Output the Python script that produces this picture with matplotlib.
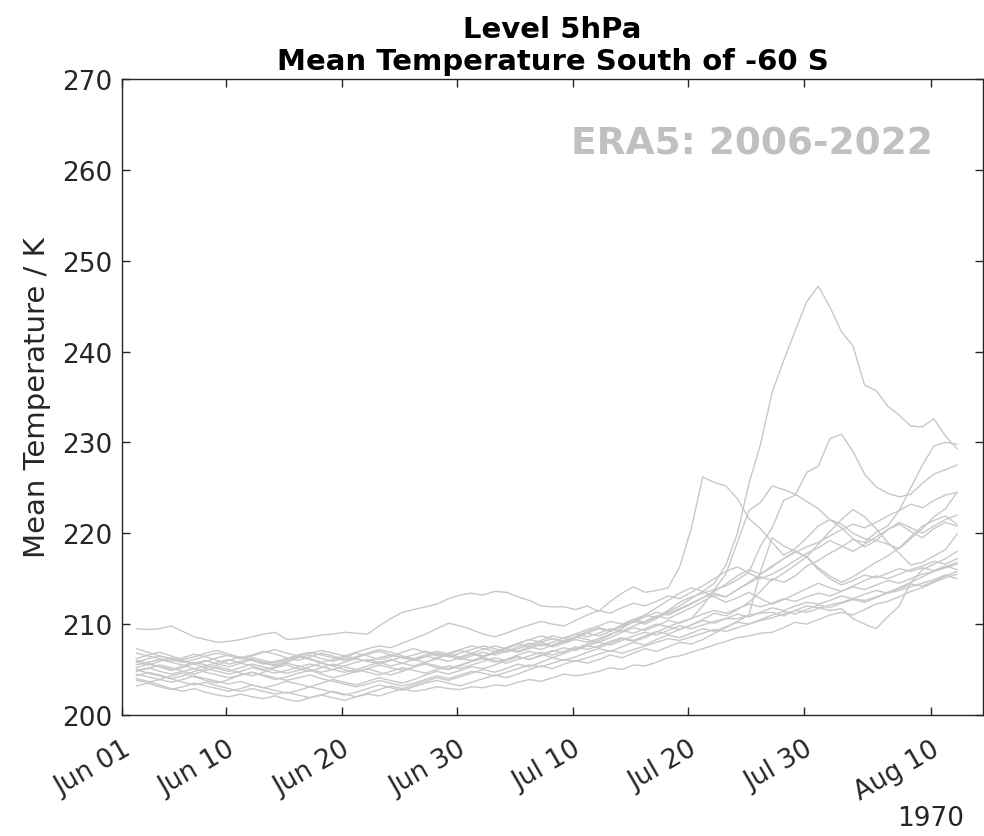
import numpy as np
import matplotlib
matplotlib.use("Agg")
import matplotlib.pyplot as plt
import matplotlib.dates as mdates
from datetime import datetime, timedelta

# daily mean temperature (K) at 5 hPa, south of 60S, one list per year, Jun 02 .. Aug 12
t2006 = [205.8, 205.5, 205.9, 206.3, 206.0, 205.6, 205.2, 205.5, 206.0, 206.4,
         206.1, 205.7, 205.4, 205.8, 206.3, 206.6, 206.2, 205.9, 206.3, 206.8,
         206.5, 206.1, 206.4, 206.9, 207.3, 206.9, 206.5, 206.8, 207.2, 207.6,
         207.3, 207.0, 207.4, 207.9, 208.3, 208.0, 207.6, 208.1, 208.6, 209.0,
         208.7, 209.2, 209.8, 210.3, 210.0, 210.6, 211.4, 212.0, 212.8, 213.6,
         214.5, 216.5, 220.0, 225.5, 229.8, 235.5, 239.0, 242.3, 245.5, 247.2,
         244.9, 242.2, 240.6, 236.3, 235.7, 234.0, 233.0, 231.8, 231.7, 232.6, 230.7, 229.3]
t2007 = [209.5, 209.4, 209.5, 209.8, 209.2, 208.6, 208.3, 208.0, 208.1, 208.3,
         208.6, 208.9, 209.1, 208.3, 208.4, 208.6, 208.8, 208.9, 209.1, 209.0,
         208.9, 209.8, 210.6, 211.3, 211.6, 211.9, 212.2, 212.8, 213.2, 213.4,
         213.2, 213.6, 213.5, 213.0, 212.6, 212.0, 211.9, 211.9, 211.6, 212.0,
         211.4, 212.5, 213.4, 214.1, 213.5, 213.7, 214.0, 216.3, 220.5, 226.2,
         225.6, 225.2, 223.8, 221.6, 220.5, 219.0, 217.6, 218.3, 219.5, 220.8,
         221.5, 220.6, 219.4, 218.5, 219.2, 220.4, 221.0, 220.2, 219.5, 220.5, 221.2, 220.8]
t2008 = [204.8, 205.1, 205.5, 205.2, 204.8, 204.5, 204.9, 205.3, 205.0, 204.6,
         204.3, 204.7, 205.2, 205.5, 205.1, 204.8, 205.2, 205.6, 205.3, 205.0,
         205.4, 205.8, 206.1, 205.7, 205.4, 205.8, 206.3, 206.6, 206.2, 206.0,
         206.4, 206.9, 207.3, 207.0, 207.5, 208.0, 208.4, 208.1, 208.6, 209.2,
         209.6, 209.3, 209.9, 210.5, 210.2, 210.8, 211.5, 212.4, 213.0, 213.4,
         213.8, 214.2, 214.9, 215.7, 218.6, 220.6, 223.6, 224.2, 226.7, 227.4,
         230.4, 230.9, 229.0, 226.5, 225.1, 224.4, 224.0, 224.3, 225.5, 226.5, 227.0, 227.5]
t2009 = [203.8, 203.6, 203.9, 204.3, 204.6, 204.2, 203.8, 203.5, 203.9, 204.4,
         204.7, 204.3, 203.9, 204.2, 204.6, 204.9, 204.5, 204.1, 204.4, 204.8,
         205.1, 204.7, 204.4, 204.8, 205.3, 205.6, 205.2, 205.0, 205.4, 205.9,
         206.2, 205.8, 206.1, 206.6, 207.0, 206.7, 206.3, 206.8, 207.3, 207.6,
         207.4, 207.9, 208.4, 208.1, 208.5, 209.1, 209.7, 209.4, 209.9, 210.5,
         211.2, 210.9, 211.6, 212.4, 213.6, 215.0, 214.6, 215.3, 216.4, 217.0,
         217.8, 218.5, 219.3, 219.0, 220.1, 220.8, 222.5, 225.0, 227.5, 229.6, 230.0, 229.8]
t2010 = [205.2, 205.6, 205.3, 204.9, 205.2, 205.7, 206.0, 205.6, 205.3, 205.7,
         206.1, 205.8, 205.5, 205.9, 206.4, 206.1, 205.7, 205.4, 205.8, 206.2,
         205.9, 205.6, 206.0, 206.4, 206.1, 205.8, 206.2, 206.7, 207.1, 206.8,
         206.5, 206.9, 207.4, 207.8, 207.5, 207.2, 207.7, 208.2, 208.6, 208.3,
         208.0, 208.5, 209.1, 209.6, 209.3, 209.8, 210.4, 210.1, 210.6, 212.0,
         213.8, 215.5, 219.0, 222.5, 223.4, 225.2, 224.8, 224.3, 223.5, 222.7,
         221.5, 221.0, 220.0, 219.4, 219.2, 218.8, 218.3, 219.4, 220.5, 221.8, 222.7, 224.5]
t2011 = [204.5, 204.2, 203.9, 203.6, 203.9, 204.3, 204.0, 203.7, 203.4, 203.7,
         203.3, 203.0, 203.3, 203.7, 203.4, 203.1, 203.5, 203.9, 203.6, 203.3,
         203.7, 204.1, 203.8, 203.5, 203.9, 204.4, 204.8, 204.5, 204.9, 205.3,
         205.1, 205.5, 206.0, 206.4, 206.1, 206.5, 207.0, 207.4, 207.1, 207.6,
         208.0, 207.7, 208.2, 208.7, 209.1, 208.8, 209.3, 209.8, 209.5, 209.9,
         210.3, 210.6, 210.6, 211.0, 211.2, 211.3, 210.9, 211.5, 212.0, 211.8,
         211.5, 211.7, 210.6, 210.0, 209.5, 210.8, 212.0, 214.6, 216.0, 216.6, 217.2, 218.0]
t2012 = [203.2, 203.5, 203.1, 202.8, 203.1, 203.5, 203.2, 202.9, 202.6, 202.9,
         203.3, 203.0, 202.7, 202.4, 202.7, 203.1, 202.8, 202.5, 202.2, 202.5,
         202.9, 203.3, 203.0, 202.7, 203.1, 203.5, 203.8, 203.5, 203.2, 203.6,
         204.0, 204.4, 204.1, 204.5, 205.0, 205.4, 205.1, 205.6, 206.0, 205.7,
         206.1, 206.6, 206.3, 206.8, 207.3, 207.0, 207.5, 208.0, 207.8, 208.3,
         209.0, 209.6, 210.3, 211.0, 215.8, 219.5, 218.6, 218.0, 217.4, 216.2,
         215.3, 214.6, 215.2, 216.0, 216.8, 217.5, 218.4, 219.6, 220.8, 221.4, 221.9, 221.0]
t2013 = [206.2, 206.6, 206.9, 206.5, 206.1, 206.4, 206.8, 207.1, 206.7, 206.3,
         206.6, 207.0, 206.7, 206.3, 206.0, 206.4, 206.8, 206.5, 206.1, 206.4,
         206.8, 207.2, 206.9, 206.5, 206.2, 206.6, 207.0, 206.7, 206.4, 206.8,
         207.2, 207.6, 207.3, 207.8, 208.3, 208.7, 208.4, 208.0, 208.5, 209.0,
         209.5, 209.2, 209.7, 210.2, 210.8, 211.3, 211.0, 211.6, 212.2, 212.9,
         213.4, 213.0, 213.8, 214.5, 215.2, 214.8, 215.6, 216.5, 217.4, 218.8,
         220.2, 221.5, 222.6, 221.8, 220.5, 219.0, 217.8, 216.5, 216.8, 217.5, 218.2, 219.9]
t2014 = [206.0, 205.7, 205.3, 205.0, 205.4, 205.8, 205.5, 205.1, 204.8, 205.2,
         205.6, 205.3, 204.9, 204.6, 204.9, 205.3, 205.7, 205.4, 205.0, 204.7,
         205.1, 205.5, 205.2, 204.9, 205.3, 205.7, 205.4, 205.1, 205.5, 205.9,
         206.3, 206.0, 205.7, 206.1, 206.5, 206.9, 206.6, 207.0, 207.5, 207.2,
         207.6, 208.1, 208.5, 208.2, 208.7, 209.2, 208.9, 209.4, 209.9, 210.4,
         210.1, 210.6, 211.1, 210.8, 211.3, 211.8, 211.5, 212.0, 212.4, 212.2,
         212.6, 213.1, 212.8, 213.3, 213.7, 213.4, 213.9, 214.4, 214.2, 214.7, 215.3, 215.8]
t2015 = [204.0, 203.7, 203.3, 202.9, 202.6, 202.9, 202.5, 202.2, 202.0, 202.3,
         202.0, 201.8, 202.1, 201.7, 201.5, 201.9, 202.2, 201.9, 201.6, 202.0,
         202.3, 202.1, 202.5, 202.9, 202.6, 202.8, 203.1, 202.9, 202.8, 203.1,
         203.0, 203.3, 203.2, 203.6, 203.9, 203.7, 204.1, 204.5, 204.3, 204.5,
         204.8, 205.2, 205.0, 205.5, 205.4, 205.8, 206.3, 206.5, 206.9, 207.3,
         207.7, 208.1, 208.5, 208.7, 209.0, 209.1, 209.6, 210.2, 210.0, 210.5,
         211.0, 211.3, 211.0, 211.6, 212.2, 212.5, 213.0, 213.6, 214.0, 214.6, 215.1, 215.5]
t2016 = [205.0, 204.6, 204.3, 204.0, 203.6, 203.3, 203.6, 203.2, 202.9, 202.6,
         202.9, 202.6, 202.3, 202.5, 202.2, 201.9, 202.2, 202.6, 202.3, 202.0,
         202.4, 202.8, 203.2, 202.9, 203.3, 203.7, 204.1, 203.8, 204.2, 204.6,
         205.0, 204.7, 205.1, 205.6, 205.3, 205.8, 206.3, 206.0, 206.4, 206.9,
         207.3, 207.0, 207.5, 208.0, 207.7, 208.3, 208.8, 208.5, 209.0, 209.5,
         209.2, 209.7, 210.2, 210.0, 210.5, 211.0, 211.4, 211.1, 211.6, 212.1,
         211.8, 212.3, 212.7, 212.4, 212.9, 213.5, 214.0, 214.6, 215.2, 215.8, 216.3, 216.8]
t2017 = [205.5, 205.8, 206.1, 205.8, 205.5, 205.1, 205.4, 205.8, 206.1, 205.7,
         205.4, 205.0, 205.3, 205.7, 205.4, 205.0, 204.7, 205.0, 205.4, 205.8,
         206.1, 205.8, 205.4, 205.7, 206.1, 206.5, 206.2, 205.9, 206.3, 206.7,
         206.4, 206.8, 207.2, 206.9, 207.3, 207.8, 207.5, 207.9, 208.3, 208.0,
         208.4, 208.9, 209.3, 209.0, 209.5, 210.0, 209.7, 210.2, 210.6, 211.1,
         211.5, 211.2, 211.7, 212.2, 211.9, 212.3, 212.8, 212.5, 213.0, 213.4,
         213.1, 213.6, 214.1, 213.8, 214.3, 214.8, 214.5, 215.0, 215.5, 215.8, 216.2, 216.6]
t2018 = [204.3, 204.7, 204.4, 204.0, 204.3, 204.8, 205.1, 204.8, 204.5, 204.8,
         205.2, 204.9, 204.6, 204.9, 205.3, 205.6, 205.3, 205.0, 204.7, 205.0,
         204.7, 204.4, 204.8, 205.2, 204.9, 204.6, 205.0, 205.4, 205.1, 205.5,
         205.9, 206.3, 206.0, 206.4, 206.1, 206.6, 207.1, 206.8, 207.3, 207.8,
         208.2, 208.8, 209.5, 210.3, 211.0, 211.8, 212.6, 213.4, 214.0, 213.6,
         213.0, 212.4, 212.9, 213.5, 212.8, 212.2, 212.7, 213.3, 213.9, 214.5,
         214.0, 213.6, 214.2, 214.8, 215.3, 215.0, 215.5, 216.0, 216.4, 216.9, 216.6, 217.2]
t2019 = [206.8, 206.5, 206.2, 205.9, 206.3, 206.7, 206.4, 206.0, 205.6, 205.9,
         206.3, 206.0, 205.7, 206.1, 206.5, 206.2, 205.8, 206.1, 206.5, 206.2,
         205.9, 206.3, 206.6, 206.3, 206.0, 206.4, 206.8, 206.5, 206.1, 206.5,
         206.9, 206.6, 207.0, 207.5, 207.9, 207.6, 208.0, 208.5, 208.9, 208.6,
         209.0, 209.5, 209.2, 209.8, 210.3, 210.9, 210.6, 211.2, 211.8, 212.5,
         213.2, 213.0, 213.8, 214.6, 215.5, 216.4, 217.2, 218.0, 217.4, 216.0,
         215.0, 214.3, 214.8, 215.4, 215.1, 215.6, 216.1, 215.8, 216.2, 215.9, 216.4, 216.0]
t2020 = [204.9, 205.2, 204.8, 204.5, 204.8, 205.1, 204.7, 204.4, 204.1, 204.4,
         204.7, 204.4, 204.1, 203.8, 204.1, 204.4, 204.0, 203.7, 203.4, 203.1,
         203.4, 203.8, 203.5, 203.2, 203.5, 203.9, 204.3, 204.0, 204.4, 204.8,
         204.6, 204.3, 204.7, 205.1, 205.5, 205.3, 205.7, 206.1, 205.9, 206.3,
         206.7, 207.1, 206.8, 207.2, 207.6, 208.0, 208.4, 208.2, 208.6, 209.0,
         209.4, 209.2, 209.6, 210.0, 210.4, 210.7, 211.1, 211.5, 211.3, 211.7,
         212.1, 212.4, 212.8, 212.6, 213.0, 213.4, 213.7, 214.1, 214.5, 214.9, 215.4, 215.0]
t2021 = [207.3, 206.9, 206.5, 206.1, 205.8, 206.1, 206.5, 206.8, 206.5, 206.2,
         206.5, 206.9, 207.2, 206.8, 206.5, 206.8, 207.1, 206.8, 206.5, 206.9,
         207.3, 207.6, 207.4, 207.9, 208.4, 208.9, 209.5, 210.1, 209.8, 209.4,
         208.9, 208.6, 209.0, 209.5, 209.9, 210.3, 210.0, 209.8, 210.4, 211.0,
         211.5, 211.2, 211.8, 212.3, 212.0, 212.5, 213.1, 212.8, 213.5, 214.2,
         215.0, 215.8, 216.3, 215.6, 215.0, 215.5, 216.2, 217.0, 217.8, 218.4,
         219.2, 218.6, 218.0, 218.8, 219.6, 220.4, 221.2, 220.6, 220.0, 220.8, 221.5, 222.0]
t2022 = [205.8, 206.2, 206.5, 206.2, 205.9, 205.6, 205.9, 206.3, 206.6, 206.3,
         206.0, 205.6, 205.9, 206.2, 206.6, 206.9, 206.6, 206.3, 206.0, 206.3,
         206.7, 207.0, 206.6, 206.3, 206.6, 207.0, 206.7, 206.4, 206.8, 207.2,
         207.6, 207.3, 206.9, 207.3, 207.7, 208.2, 208.7, 208.4, 208.9, 209.4,
         209.8, 210.3, 210.0, 210.5, 211.0, 210.7, 211.2, 211.7, 212.3, 212.9,
         213.6, 214.4, 215.3, 216.0, 215.5, 216.3, 217.2, 217.9, 218.5, 219.0,
         219.7, 220.4, 221.0, 220.6, 221.2, 221.9, 222.5, 223.2, 222.8, 223.6, 224.2, 224.5]

years = [t2006, t2007, t2008, t2009, t2010, t2011, t2012, t2013, t2014,
         t2015, t2016, t2017, t2018, t2019, t2020, t2021, t2022]

# dates are put on a dummy year (1970) like the original plot
start = datetime(1970, 6, 2, 6)
dates = [start + timedelta(days=i) for i in range(len(t2006))]

tick_dates = [datetime(1970, 6, 1), datetime(1970, 6, 10), datetime(1970, 6, 20),
              datetime(1970, 6, 30), datetime(1970, 7, 10), datetime(1970, 7, 20),
              datetime(1970, 7, 30), datetime(1970, 8, 10)]
yticks = [200, 210, 220, 230, 240, 250, 260, 270]

plt.rcParams['font.family'] = ['DejaVu Sans']
axcol = '#262626'

fig = plt.figure(figsize=(9.84, 8.37), dpi=100)
ax = fig.add_axes([0.124, 0.1446, 0.875, 0.7599])

for t in years:
    ax.plot(dates, t, color='#c8c8c8', lw=1.0)

ax.set_xlim(datetime(1970, 6, 1), datetime(1970, 6, 1) + timedelta(days=74.5))
ax.set_ylim(200, 270)
ax.set_yticks(yticks)
ax.set_xticks(tick_dates)
ax.xaxis.set_major_formatter(mdates.DateFormatter('%b %d'))
ax.tick_params(direction='in', length=6, width=1, colors=axcol, labelsize=19,
               top=True, right=True)
ax.tick_params(axis='x', pad=15)
ax.tick_params(axis='y', pad=7)
plt.setp(ax.get_xticklabels(), rotation=30, ha='right', rotation_mode='anchor')
for s in ax.spines.values():
    s.set_color(axcol)
    s.set_linewidth(1.0)

ax.set_ylabel('Mean Temperature / K', fontsize=21, color=axcol, labelpad=8)
ax.set_title('Level 5hPa\nMean Temperature South of -60 S', fontsize=21,
             fontweight='bold', pad=7, linespacing=1.2)
ax.text(0.942, 0.898, 'ERA5: 2006-2022', transform=ax.transAxes, ha='right',
        va='center', fontsize=27, fontweight='bold', color='#c0c0c0')
fig.text(931 / 984, 1 - 819 / 837, '1970', ha='center', va='center',
         fontsize=19, color=axcol)

fig.savefig('out.png', dpi=100)
